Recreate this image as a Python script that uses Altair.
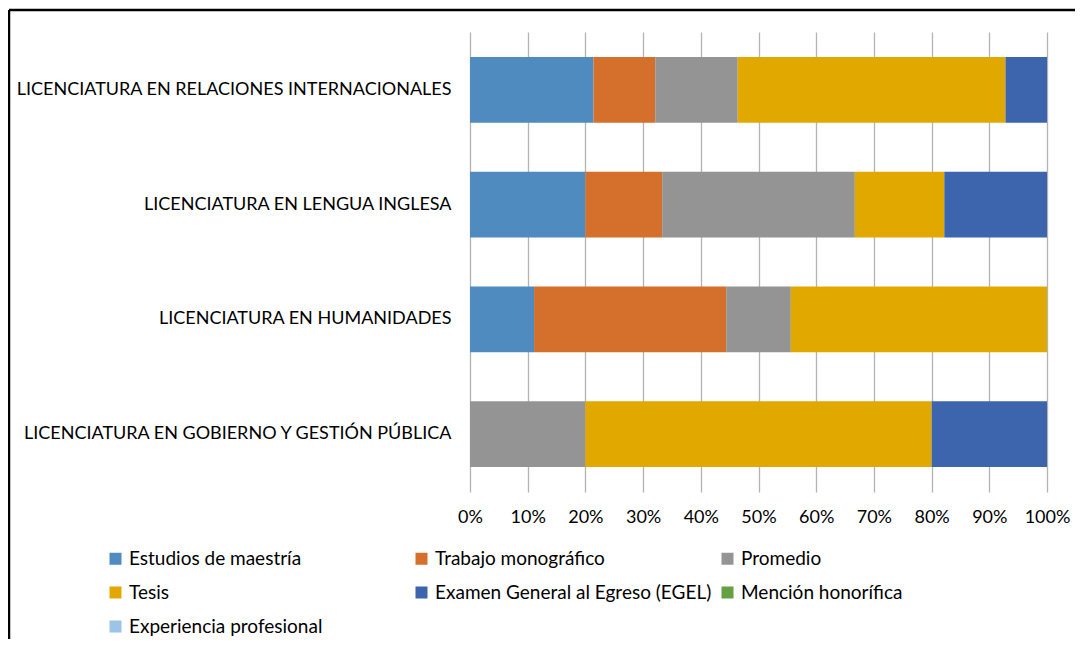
import altair as alt
import pandas as pd

categories = [
    "LICENCIATURA EN RELACIONES INTERNACIONALES",
    "LICENCIATURA EN LENGUA INGLESA",
    "LICENCIATURA EN HUMANIDADES",
    "LICENCIATURA EN GOBIERNO Y GESTIÓN PÚBLICA",
]
series = [
    "Estudios de maestría",
    "Trabajo monográfico",
    "Promedio",
    "Tesis",
    "Examen General al Egreso (EGEL)",
    "Mención honorífica",
    "Experiencia profesional",
]
colors = ["#508bbf", "#d46f2c", "#949494", "#e1a900", "#3d65ae", "#65a043", "#9dc3e6"]

# percentage per category (rows) and series (columns)
values = [
    [21.4, 10.7, 14.3, 46.4, 7.2, 0, 0],
    [20.0, 13.3, 33.4, 15.5, 17.8, 0, 0],
    [11.1, 33.3, 11.2, 44.4, 0, 0, 0],
    [0, 0, 20.0, 60.0, 20.0, 0, 0],
]

rows = []
for ci, cat in enumerate(categories):
    for si, s in enumerate(series):
        rows.append({"cat": cat, "serie": s, "order": si, "val": values[ci][si]})
df = pd.DataFrame(rows)

FONT = "Lato"

bars = alt.Chart(df).mark_bar().encode(
    y=alt.Y("cat:N", sort=categories,
            scale=alt.Scale(paddingInner=0.426, paddingOuter=0.217),
            axis=alt.Axis(title=None, domain=False, ticks=False, labelPadding=19,
                          labelFontSize=18, labelFont=FONT, labelColor="#000000",
                          labelLimit=600)),
    x=alt.X("val:Q", stack="normalize",
            scale=alt.Scale(domain=[0, 1]),
            axis=alt.Axis(title=None, domain=False, ticks=False, format=".0%",
                          values=[i / 10 for i in range(11)], grid=True,
                          gridColor="#b3b3b3", gridWidth=1.3, labelPadding=16,
                          labelFontSize=18, labelFont=FONT, labelColor="#000000",
                          labelFlush=False)),
    color=alt.Color("serie:N",
                    scale=alt.Scale(domain=series, range=colors),
                    legend=alt.Legend(title=None, orient="none", legendX=-364, legendY=517,
                                      direction="horizontal",
                                      columns=3, gridAlign="all", columnPadding=6,
                                      rowPadding=14, symbolType="square", symbolSize=144,
                                      symbolStrokeWidth=0, labelFontSize=19, labelFont=FONT,
                                      labelColor="#000000", labelOffset=4, labelLimit=400)),
    order=alt.Order("order:Q"),
)

one = pd.DataFrame({"a": [0]})
left_border = alt.Chart(one).mark_rule(color="#000000", strokeWidth=2.5).encode(
    x=alt.value(-461), y=alt.value(-22), y2=alt.value(640))
top_border = alt.Chart(one).mark_rule(color="#000000", strokeWidth=2.5).encode(
    x=alt.value(-461), x2=alt.value(700), y=alt.value(-22))

chart = alt.layer(bars, left_border, top_border).properties(
    width=577, height=460,
    autosize=alt.AutoSizeParams(type="none"),
    padding={"left": 462, "top": 24, "right": 28, "bottom": 147},
).configure_view(stroke="transparent")

chart.save("out.html", embed_options={"renderer": "svg", "actions": False})
